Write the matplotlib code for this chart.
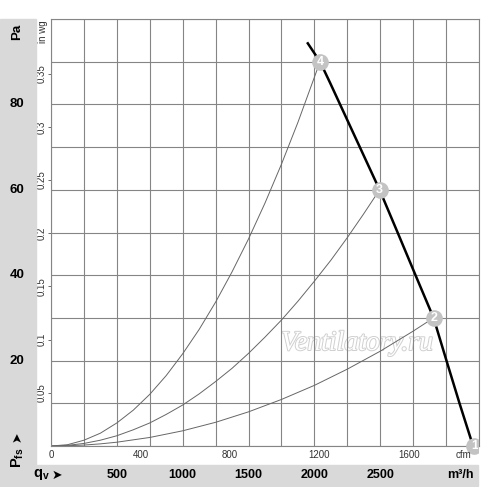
import numpy as np
import matplotlib
matplotlib.use("Agg")
import matplotlib.pyplot as plt
import matplotlib.transforms as mtransforms
import matplotlib.patheffects as pe
from matplotlib.patches import Rectangle

plt.rcParams['font.family'] = ['Liberation Sans', 'DejaVu Sans']
plt.rcParams['mathtext.fontset'] = 'custom'
plt.rcParams['mathtext.rm'] = 'Liberation Sans'
plt.rcParams['mathtext.bf'] = 'Liberation Sans:bold'

# fan curve (m3/h, Pa)
fan_q = [1950, 2043, 2120, 2195, 2345, 2495, 2632, 2768, 2905, 3003, 3102, 3205]
fan_p = [94.3, 90, 85, 80, 70, 60, 50, 40, 30, 20, 10, 0]

# system curves
sys4_q = [0, 125, 250, 375, 500, 625, 750, 875, 1000, 1125, 1250, 1375, 1500,
          1625, 1750, 1875, 2043]
sys4_p = [0, 0.3, 1.35, 3.0, 5.4, 8.4, 12.1, 16.5, 21.6, 27.3, 33.7, 40.8, 48.5,
          56.9, 66.0, 75.8, 90]
sys3_q = [0, 125, 250, 375, 500, 625, 750, 875, 1000, 1125, 1250, 1375, 1500,
          1625, 1750, 1875, 2000, 2125, 2250, 2375, 2495]
sys3_p = [0, 0.15, 0.6, 1.36, 2.4, 3.8, 5.4, 7.4, 9.6, 12.2, 15.1, 18.2, 21.7,
          25.5, 29.5, 33.9, 38.6, 43.5, 48.8, 54.4, 60]
sys2_q = [0, 125, 250, 375, 500, 750, 1000, 1250, 1500, 1750, 2000, 2250, 2500,
          2750, 2905]
sys2_p = [0, 0.06, 0.22, 0.5, 0.89, 2.0, 3.56, 5.55, 8.0, 10.9, 14.2, 18.0, 22.2,
          26.9, 30]

# operating points
pt_labels = ['1', '2', '3', '4']
pt_q = [3215, 2905, 2495, 2043]
pt_p = [0, 30, 60, 90]

pa_labels = [20, 40, 60, 80]
m3h_labels = [500, 1000, 1500, 2000, 2500]
cfm_ticks = [0, 400, 800, 1200, 1600]
inwg_ticks = [0.05, 0.1, 0.15, 0.2, 0.25, 0.3, 0.35]
inwg_text = ['0.05', '0.1', '0.15', '0.2', '0.25', '0.3', '0.35']

W, H = 500, 487
fig = plt.figure(figsize=(W / 100, H / 100), dpi=100)


def fx(px):
    return px / W


def fy(py):
    return 1 - py / H


panel = '#d9d9d9'
fig.patches.append(Rectangle((0, fy(487)), fx(36), (487 - 19) / H,
                             transform=fig.transFigure, color=panel, zorder=0))
fig.patches.append(Rectangle((0, fy(486)), fx(478), 21 / H,
                             transform=fig.transFigure, color=panel, zorder=0))

ax = fig.add_axes([fx(51), fy(446), (479 - 51) / W, (446 - 19) / H])
ax.set_xlim(0, 3250)
ax.set_ylim(0, 100)
ax.set_xticks(np.arange(0, 3251, 250))
ax.set_yticks(np.arange(0, 101, 10))
ax.tick_params(length=0, labelbottom=False, labelleft=False)
gc = '#858585'
ax.grid(True, color=gc, lw=0.8)
for s in ax.spines.values():
    s.set_color(gc)
    s.set_linewidth(0.8)

ax.text(2324, 24, 'Ventilatory.ru', fontsize=20, style='italic',
        family='Liberation Serif', color='white', ha='center', va='center',
        zorder=1.5, path_effects=[pe.withStroke(linewidth=1.4, foreground='#d0d0d0')])

lc = '#666666'
ax.plot(sys4_q, sys4_p, color=lc, lw=0.7, zorder=2)
ax.plot(sys3_q, sys3_p, color=lc, lw=0.7, zorder=2)
ax.plot(sys2_q, sys2_p, color=lc, lw=0.7, zorder=2)
ax.plot(fan_q, fan_p, color='black', lw=1.8, zorder=3)

# markers may spill below the frame but are cut at its right edge
clip = Rectangle((0, 0), fx(478), 1, transform=fig.transFigure, facecolor='none')
marks, = ax.plot(pt_q, pt_p, 'o', ms=12, color='#c3c3c3', mec='none', zorder=4,
                 clip_on=True)
marks.set_clip_path(clip)
for lab, q, p in zip(pt_labels, pt_q, pt_p):
    t = ax.text(q, p, lab, color='white', fontsize=9, fontweight='bold',
                ha='center', va='center', zorder=5, clip_on=True)
    t.set_clip_path(clip)

# cfm secondary axis
secx = ax.secondary_xaxis('bottom', functions=(lambda q: q / 1.699, lambda c: c * 1.699))
secx.set_xticks(cfm_ticks)
secx.tick_params(length=0, labelsize=7, pad=3, labelcolor='#333333')
secx.spines['bottom'].set_visible(False)
fig.text(fx(463), fy(455), 'cfm', fontsize=7, color='#333333', ha='center', va='center')

# in wg secondary axis
secy = ax.secondary_yaxis('left', functions=(lambda p: p / 249.09, lambda w: w * 249.09))
secy.set_yticks(inwg_ticks, inwg_text)
secy.tick_params(length=2, width=0.6, color='#555555', labelsize=7, pad=1,
                 labelrotation=90, labelcolor='#333333')
for lab in secy.get_yticklabels():
    lab.set_va('center')
secy.spines['left'].set_visible(False)
fig.text(fx(43), fy(32), 'in wg', fontsize=7, rotation=90, color='#333333',
         ha='center', va='center')

# Pa labels on the grey panel
ty = mtransforms.blended_transform_factory(fig.transFigure, ax.transData)
for v in pa_labels:
    fig.text(fx(17), v, str(v), transform=ty, fontsize=9.5, fontweight='bold',
             ha='center', va='center')
fig.text(fx(17), fy(32), 'Pa', fontsize=9.5, fontweight='bold', rotation=90,
         ha='center', va='center')
fig.text(fx(17), fy(437), '➤', fontsize=9, rotation=90, ha='center', va='center',
         family=['DejaVu Sans'])
fig.text(fx(18), fy(458), r'$\mathbf{P}_{\mathbf{fs}}$', fontsize=10.5, rotation=90,
         ha='center', va='center')

# m3/h labels on the bottom band
tx = mtransforms.blended_transform_factory(ax.transData, fig.transFigure)
for v in m3h_labels:
    fig.text(v, fy(475), str(v), transform=tx, fontsize=9, fontweight='bold',
             ha='center', va='center')
fig.text(fx(460), fy(475), 'm³/h', fontsize=9, fontweight='bold', ha='center', va='center')
fig.text(fx(33), fy(474), r'$\mathbf{q}_{\mathbf{v}}$', fontsize=10.5,
         ha='left', va='center')
fig.text(fx(57), fy(475), '➤', fontsize=9, ha='center', va='center',
         family=['DejaVu Sans'])

fig.savefig('out.png', dpi=100)
